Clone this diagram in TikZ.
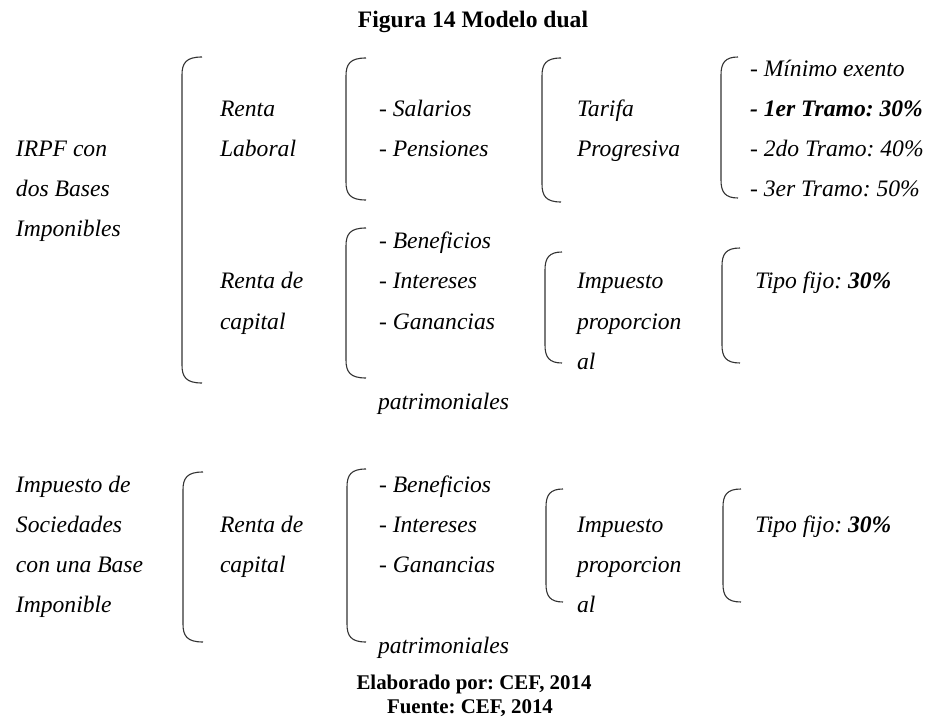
\documentclass[tikz,border=0pt]{standalone}
\usepackage{fontspec}
\setmainfont{Liberation Serif}
\frenchspacing
\newcommand\mybrack[4]{% vertical x, end x, top y, bottom y
  \draw[brk] (#2,#3) .. controls (#1+4,#3) and (#1,#3+6) .. (#1,#3+18)
    -- (#1,#4-18) .. controls (#1,#4-6) and (#1+4,#4) .. (#2,#4);}
\begin{document}
\begin{tikzpicture}[x=1pt,y=-1pt,
  txt/.style={anchor=base west,inner sep=0pt,outer sep=0pt,font=\fontsize{23.6}{28}\selectfont\frenchspacing\itshape},
  head/.style={anchor=base,inner sep=0pt,font=\fontsize{23.6}{28}\selectfont\frenchspacing\bfseries},
  foot/.style={anchor=base,inner sep=0pt,font=\fontsize{20.9}{24}\selectfont\frenchspacing\bfseries},
  brk/.style={draw=black!80,line width=1.1pt}]
\useasboundingbox (0,0) rectangle (935,722);
% title
\node[head] (title) at (473,28) {Figura 14 Modelo dual};
% ---- block 1 ----
\node[txt] (irpf1) at (16,157) {IRPF con};
\node[txt] (irpf2) at (16,197) {dos Bases};
\node[txt] (irpf3) at (16,237) {Imponibles};
\mybrack{182}{202}{57}{383}
\node[txt] (rl1) at (220,117) {Renta};
\node[txt] (rl2) at (220,157) {Laboral};
\mybrack{346}{366}{58}{200}
\node[txt] (sal) at (379,117) {- Salarios};
\node[txt] (pen) at (379,157) {- Pensiones};
\mybrack{542}{561}{58}{202}
\node[txt] (tar1) at (577,117) {Tarifa};
\node[txt] (tar2) at (577,157) {Progresiva};
\mybrack{721}{738}{57}{198}
\node[txt] (t0) at (750,77) {- Mínimo exento};
\node[txt,font=\fontsize{23.6}{28}\selectfont\frenchspacing\bfseries\itshape] (t1) at (750,117) {- 1er Tramo: 30\%};
\node[txt] (t2) at (750,157) {- 2do Tramo: 40\%};
\node[txt] (t3) at (750,197) {- 3er Tramo: 50\%};
% renta de capital (block 1)
\node[txt] (rc1) at (220,289) {Renta de};
\node[txt] (rc2) at (220,329) {capital};
\mybrack{346}{366}{228}{378}
\node[txt] (ben) at (379,249) {- Beneficios};
\node[txt] (int) at (379,289) {- Intereses};
\node[txt] (gan) at (379,329) {- Ganancias};
\node[txt] (pat) at (378,409) {patrimoniales};
\mybrack{545}{562}{252}{363}
\node[txt] (imp1) at (577,289) {Impuesto};
\node[txt] (imp2) at (577,329) {proporcion};
\node[txt] (imp3) at (577,369) {al};
\mybrack{722}{740}{248}{363}
\node[txt] (tf) at (755,289) {Tipo fijo: \textbf{30\%}};
% ---- block 2 ----
\node[txt] (is1) at (16,492) {Impuesto de};
\node[txt] (is2) at (16,532) {Sociedades};
\node[txt] (is3) at (16,572) {con una Base};
\node[txt] (is4) at (16,612) {Imponible};
\mybrack{183}{203}{472}{642}
\node[txt] (rcb1) at (220,532) {Renta de};
\node[txt] (rcb2) at (220,572) {capital};
\mybrack{347}{366}{469}{642}
\node[txt] (benb) at (379,492) {- Beneficios};
\node[txt] (intb) at (379,532) {- Intereses};
\node[txt] (ganb) at (379,572) {- Ganancias};
\node[txt] (patb) at (378,653) {patrimoniales};
\mybrack{546}{563}{489}{602}
\node[txt] (impb1) at (577,532) {Impuesto};
\node[txt] (impb2) at (577,572) {proporcion};
\node[txt] (impb3) at (577,612) {al};
\mybrack{723}{741}{489}{602}
\node[txt] (tfb) at (755,532) {Tipo fijo: \textbf{30\%}};
% footer
\node[foot] (elab) at (474,689) {Elaborado por: CEF, 2014};
\node[foot] (fue) at (470,713) {Fuente: CEF, 2014};
\end{tikzpicture}
\end{document}
